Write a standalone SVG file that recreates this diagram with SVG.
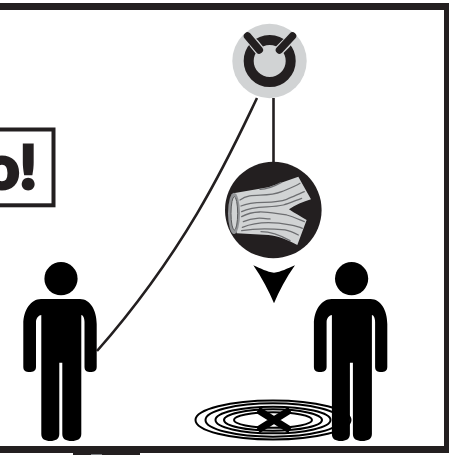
<svg xmlns="http://www.w3.org/2000/svg" width="449" height="455" viewBox="0 0 449 455">
<style>
.bar{fill:#231f20}
.grain{fill:none;stroke:#6d6e71;stroke-width:3.8;stroke-linecap:round}
.ring{fill:none;stroke:#000;stroke-width:2}
.lnk{fill:none;stroke:#231f20;stroke-width:2.6}
</style>
<defs>
<g id="person">
<circle cx="61" cy="278.7" r="16.6"/>
<path d="M41 299H80C90 299 96.7 310 96.7 324V367C96.7 371 94 372 90.5 372C87 372 84.5 371 84.5 367V322C84.5 318 83 315 81.3 315V434C81.3 439 77 441 71.7 441C66 441 62.3 439 62.3 434V362.7H59.3V434C59.3 439 55.5 441 50.3 441C45 441 41.3 439 41.3 434V315C39 315 36 318 36 322V367C36 371 33 372 29.5 372C26 372 23.3 371 23.3 367V324C23.3 310 31 299 41 299Z"/>
</g>
</defs>
<rect width="449" height="455" fill="#fff"/>
<g id="frame">
<rect class="bar" x="0" y="3" width="449" height="7"/>
<rect class="bar" x="444" y="3" width="5" height="450"/>
<rect class="bar" x="0" y="446" width="449" height="7"/>
<rect class="bar" x="73" y="453" width="67" height="2"/>
<rect x="91" y="454" width="11" height="1" fill="#808285"/>
</g>
<g id="connectors">
<path class="lnk" d="M257 98C232 150 190 245 97 351"/>
<path class="lnk" d="M273.5 98V165"/>
</g>
<g id="sign">
<rect x="-5" y="129.5" width="58.5" height="75.8" fill="#fff" stroke="#231f20" stroke-width="4"/>
<text x="37" y="188.8" text-anchor="end" font-family="Lato, 'Liberation Sans', sans-serif" font-weight="900" font-size="61" fill="#231f20" stroke="#231f20" stroke-width="3" stroke-linejoin="miter">o!</text>
</g>
<g id="person-left"><use href="#person"/></g>
<g id="puddle">
<ellipse class="ring" cx="273" cy="420" rx="77.5" ry="19.5"/>
<ellipse class="ring" cx="273" cy="420" rx="67.5" ry="16.7"/>
<ellipse class="ring" cx="273" cy="420" rx="57.5" ry="13.3"/>
<ellipse class="ring" cx="273" cy="420" rx="49" ry="10.7"/>
<ellipse class="ring" cx="273" cy="420" rx="39" ry="7.7"/>
<path d="M258 410L290 430M290 410L258 430" stroke="#000" stroke-width="7" fill="none"/>
</g>
<g id="person-right"><use href="#person" x="290.6"/></g>
<g id="axe-node">
<circle cx="269.5" cy="61" r="37.2" fill="#d1d3d4"/>
<circle cx="269.7" cy="61" r="21" fill="none" stroke="#231f20" stroke-width="10"/>
<path d="M254 43.500L259.3 50M286 43.500L279.500 50" stroke="#d1d3d4" stroke-width="10" stroke-linecap="round" fill="none"/>
<path d="M247.500 36L259.300 50M292.500 36L279.500 50" stroke="#231f20" stroke-width="7.500" stroke-linecap="round" fill="none"/>
</g>
<g id="log-node">
<circle cx="273.3" cy="210" r="48.3" fill="#231f20"/>
<g transform="translate(215 150) scale(.3333)">
<path d="M55 130L160 112L250 80L288 148C265 155 240 165 222 178C240 190 258 200 275 210L247 285C220 270 190 258 160 255L65 250Z" fill="#d1d3d4"/>
<ellipse cx="57" cy="190" rx="18" ry="62" fill="#939598"/>
<ellipse cx="58" cy="190" rx="10" ry="50" fill="#d1d3d4" stroke="#58595b" stroke-width="3"/>
<path class="grain" d="M135 118C160 118 180 108 198 98"/>
<path class="grain" d="M75 150C110 125 150 145 200 125C225 115 240 110 255 100"/>
<path class="grain" d="M78 168C120 148 170 165 215 148C235 140 255 130 268 125"/>
<path class="grain" d="M80 185C120 165 165 175 205 165C225 160 245 150 260 145"/>
<path class="grain" d="M80 200C125 175 170 190 215 195C235 200 255 210 268 215"/>
<path class="grain" d="M85 215C120 200 145 205 165 207"/>
<path class="grain" d="M82 232C125 215 175 215 225 225C240 228 255 232 262 235"/>
<path class="grain" d="M80 242C120 235 165 235 210 240C225 243 240 250 250 255"/>
<path class="grain" d="M138 245C165 245 195 255 225 272"/>
</g>
</g>
<path id="arrow" d="M253.3 265.3C261 268.5 267 272 274 272.7C281 272 287 268.5 295 265.3C286 278 279 291 274 303.3C269 291 262 278 253.3 265.3Z" fill="#000"/>
</svg>
